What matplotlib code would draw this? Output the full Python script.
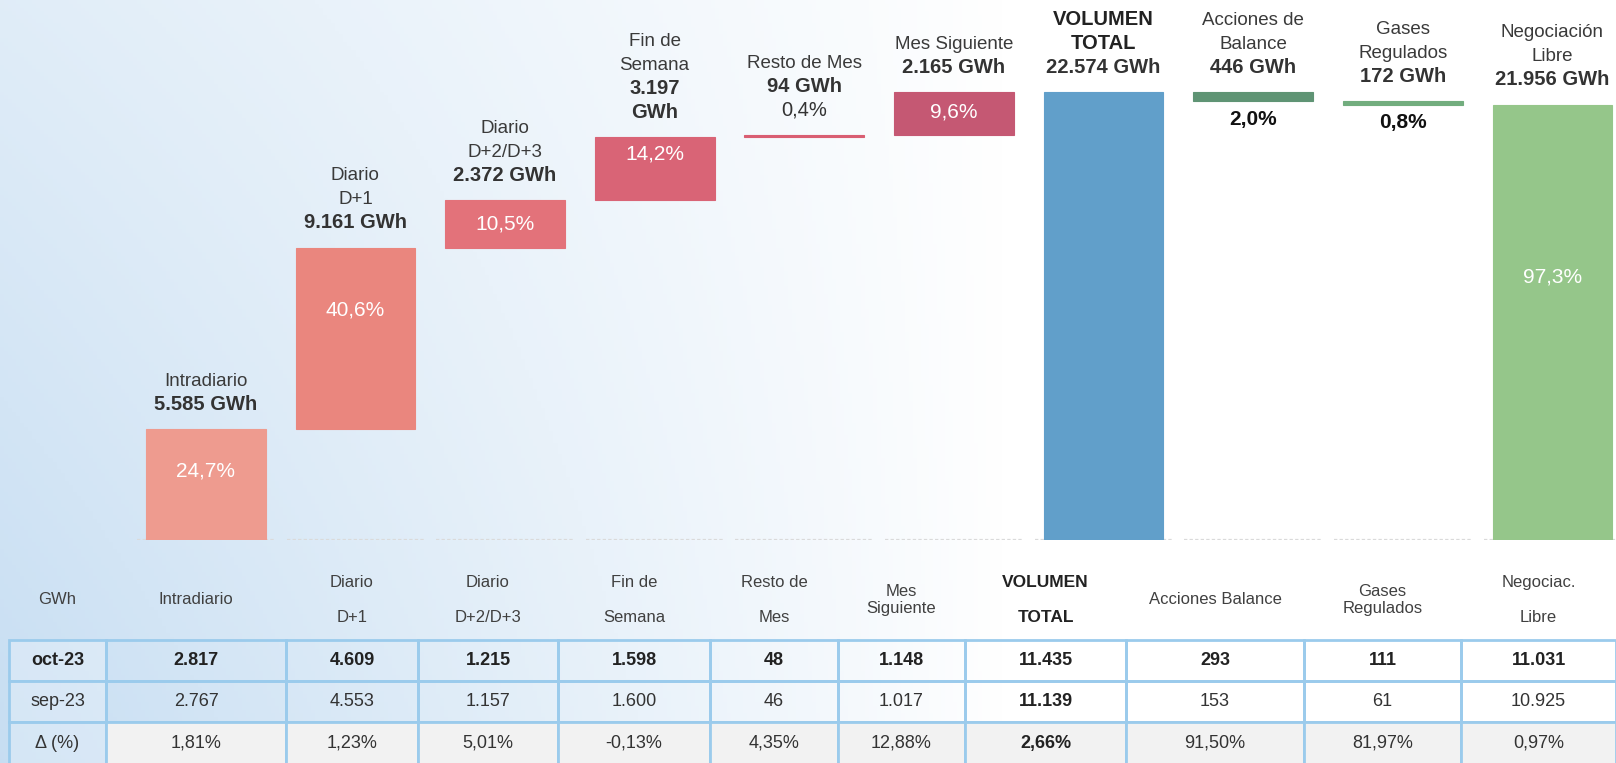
import numpy as np
import matplotlib.pyplot as plt

plt.rcParams['font.family'] = ['Liberation Sans', 'DejaVu Sans']

# --- waterfall (GWh) ---
bar_names = ['Intradiario', 'Diario\nD+1', 'Diario\nD+2/D+3', 'Fin de\nSemana', 'Resto de Mes',
             'Mes Siguiente', 'VOLUMEN\nTOTAL', 'Acciones de\nBalance', 'Gases\nRegulados',
             'Negociación\nLibre']
mercados = [5585, 9161, 2372, 3197, 94, 2165]
acciones_balance = 446
gases_regulados = 172
negociacion_libre = 21956
bar_colors = ['#EE9B8F', '#EA867E', '#E3727A', '#D96476', '#D95E72', '#C55873',
              '#619FCA', '#5F9474', '#72AD7E', '#95C68A']

# --- tabla ---
col_heads = ['GWh', 'Intradiario', 'Diario\n\nD+1', 'Diario\n\nD+2/D+3', 'Fin de\n\nSemana',
             'Resto de\n\nMes', 'Mes\nSiguiente', 'VOLUMEN\n\nTOTAL', 'Acciones Balance',
             'Gases\nRegulados', 'Negociac.\n\nLibre']
row_heads = ['oct-23', 'sep-23', 'Δ (%)']
oct_23 = [2817, 4609, 1215, 1598, 48, 1148, 11435, 293, 111, 11031]
sep_23 = [2767, 4553, 1157, 1600, 46, 1017, 11139, 153, 61, 10925]
delta_pct = [1.81, 1.23, 5.01, -0.13, 4.35, 12.88, 2.66, 91.50, 81.97, 0.97]


def miles(v):
    return f'{v:,}'.replace(',', '.')


def coma(v, d):
    return f'{v:.{d}f}'.replace('.', ',')


total = sum(mercados)
heights = mercados + [total, acciones_balance, gases_regulados, negociacion_libre]
bottoms = list(np.cumsum([0] + mercados[:-1])) + [0, total - acciones_balance,
                                                   total - acciones_balance - gases_regulados, 0]
tops = [b + h for b, h in zip(bottoms, heights)]
x = np.arange(len(heights))

# how the percentage is shown, and how far (pt) from the bar top / bottom
pct_mode = ['in', 'in', 'in', 'in', 'stack', 'in', None, 'below', 'below', 'in']
pct_drop = [30, 45, 17, 12, 0, 14, 0, 13, 13, 124]
wrap_value = {3}

W, H = 1616, 763
fig = plt.figure(figsize=(W / 100, H / 100), dpi=100)

# background gradient
gx = np.linspace(0, 1, 400)[None, :]
gy = np.linspace(0, 1, 200)[:, None]
w = np.clip(1 - gx / 0.62, 0, 1) ** 0.9 * (1.0 - 0.45 * gy)
blue = np.array([0.78, 0.87, 0.95])
grad = 1 - w[..., None] * (1 - blue)
bg = fig.add_axes([0, 0, 1, 1], zorder=-1)
bg.imshow(grad, extent=[0, 1, 0, 1], aspect='auto', origin='lower')
bg.axis('off')

# main waterfall
ax = fig.add_axes([131 / W, (H - 540) / H, 1488.7 / W, 539.5 / H])
ax.bar(x, heights, bottom=bottoms, width=0.8, color=bar_colors, edgecolor=bar_colors,
       linewidth=0.8, zorder=2)
ax.hlines(np.zeros(len(x)), x - 0.46, x + 0.46, colors='#dadada', linestyles=(0, (1.5, 1)),
          lw=1.6, zorder=1)
ax.set_xlim(-0.5, 9.45)
ax.set_ylim(0, 27200)
ax.axis('off')

step = 17.3
for i in x:
    pct = coma(100 * heights[i] / total, 1) + '%'
    lines = []
    if pct_mode[i] == 'stack':
        lines.append((pct, 'normal', '#333333', 14.5))
    vals = [miles(heights[i]), 'GWh'] if i in wrap_value else [miles(heights[i]) + ' GWh']
    for t in vals[::-1]:
        lines.append((t, 'bold', '#333333', 14.5))
    name_w = 'bold' if i == 6 else 'normal'
    name_c = '#222222' if i == 6 else '#3a3a3a'
    for t in bar_names[i].split('\n')[::-1]:
        lines.append((t, name_w, name_c, 13.5 if i != 6 else 14.5))
    for k, (t, fw, c, fs) in enumerate(lines):
        ax.annotate(t, (x[i], tops[i]), xytext=(0, 14 + step * k), textcoords='offset points',
                    ha='center', va='baseline', fontsize=fs, fontweight=fw, color=c,
                    annotation_clip=False)
    if pct_mode[i] == 'in':
        ax.annotate(pct, (x[i], tops[i]), xytext=(0, -pct_drop[i]), textcoords='offset points',
                    ha='center', va='center', fontsize=15, color='white', zorder=3)
    elif pct_mode[i] == 'below':
        ax.annotate(pct, (x[i], bottoms[i]), xytext=(0, -pct_drop[i]), textcoords='offset points',
                    ha='center', va='center', fontsize=15, fontweight='bold', color='#111111')

# table
tax = fig.add_axes([9 / W, (H - 765) / H, 1607 / W, 205 / H])
tax.axis('off')
col_w = [97, 180, 132, 140, 152, 128, 127, 161, 178, 157, 155]
cells = [col_heads,
         [row_heads[0]] + [miles(v) for v in oct_23],
         [row_heads[1]] + [miles(v) for v in sep_23],
         [row_heads[2]] + [coma(v, 2) + '%' for v in delta_pct]]
tab = tax.table(cellText=cells, colWidths=[c / sum(col_w) for c in col_w],
                cellLoc='center', bbox=[0, 0, 1, 1])
tab.auto_set_font_size(False)
row_h = [80, 41, 41, 43]
for (r, c), cell in tab.get_celld().items():
    cell.set_height(row_h[r])
    txt = cell.get_text()
    if r == 0:
        cell.visible_edges = ''
        cell.set_facecolor('none')
        txt.set_fontsize(12)
        txt.set_color('#404040')
        if c == 7:
            txt.set_fontweight('bold')
            txt.set_color('#222222')
            txt.set_fontsize(12.5)
        continue
    cell.set_edgecolor('#9BCBEC')
    cell.set_linewidth(2)
    if r == 3 and c > 0:
        cell.set_facecolor('#F2F2F2')
    elif c == 0:
        cell.set_facecolor((1, 1, 1, 0.25))
    else:
        cell.set_facecolor('none')
    txt.set_fontsize(13)
    txt.set_color('#333333')
    if r == 1 or (c == 7):
        txt.set_fontweight('bold')
        txt.set_color('#222222')

fig.savefig('out.png', dpi=100)
